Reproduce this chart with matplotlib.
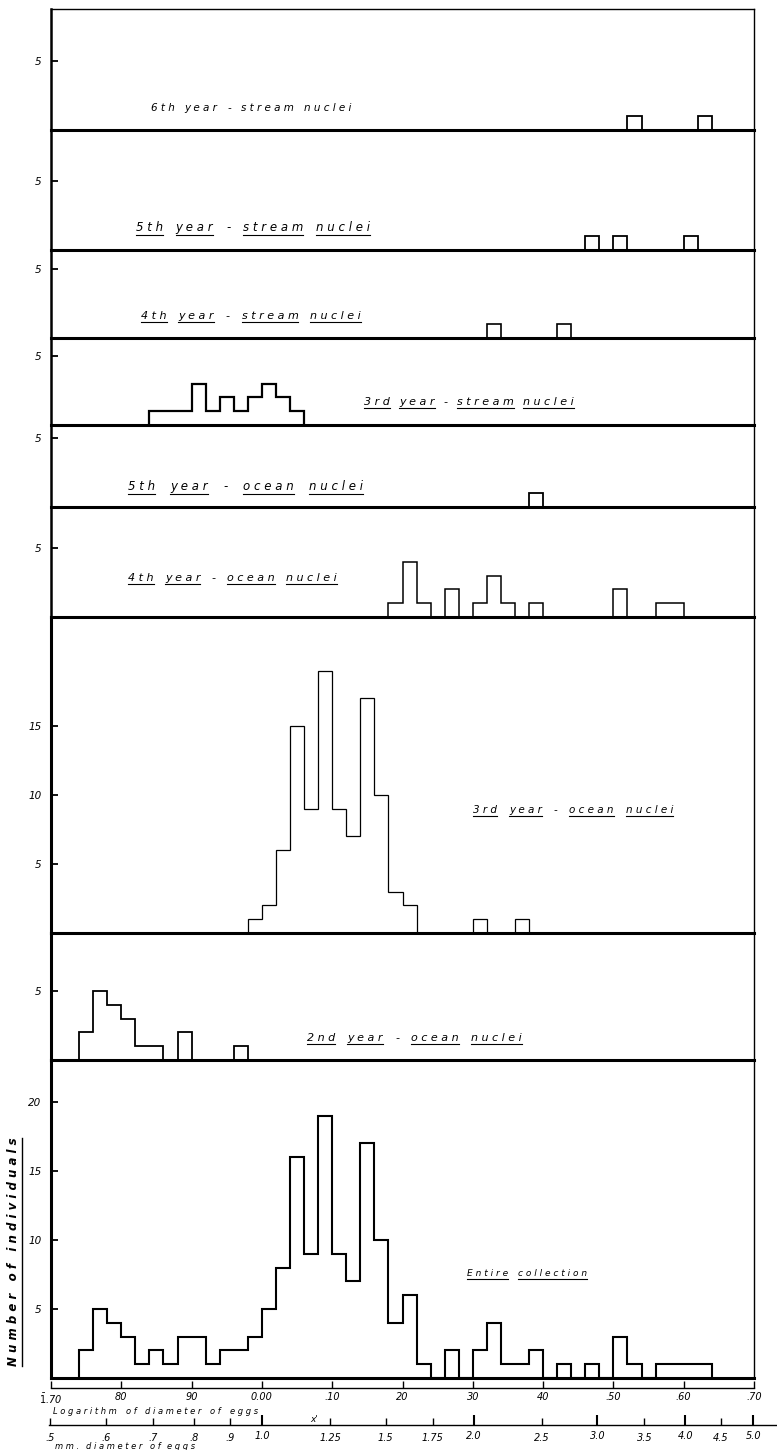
import numpy as np
import matplotlib.pyplot as plt
from matplotlib.lines import Line2D

W, H = 777, 1450

# log10 of egg diameter, classes 0.02 wide
bin_width = 0.02

# number of individuals per class, each group from its first class edge
stream6_start = 0.52
stream6 = [1, 0, 0, 0, 0, 1]
stream5_start = 0.46
stream5 = [1, 0, 1, 0, 0, 0, 0, 1]
stream4_start = 0.32
stream4 = [1, 0, 0, 0, 0, 1]
stream3_start = -0.16
stream3 = [1, 1, 1, 3, 1, 2, 1, 2, 3, 2, 1]
ocean5_start = 0.38
ocean5 = [1]
ocean4_start = 0.18
ocean4 = [1, 4, 1, 0, 2, 0, 1, 3, 1, 0, 1, 0, 0, 0, 0, 0, 2, 0, 0, 1, 1]
ocean3_start = -0.02
ocean3 = [1, 2, 6, 15, 9, 19, 9, 7, 17, 10, 3, 2, 0, 0, 0, 0, 1, 0, 0, 1]
ocean2_start = -0.26
ocean2 = [2, 5, 4, 3, 1, 1, 0, 2, 0, 0, 0, 1]
entire_start = -0.26
entire = [2, 5, 4, 3, 1, 2, 1, 3, 3, 1, 2, 2, 3, 5, 8, 16, 9, 19, 9, 7,
          17, 10, 4, 6, 1, 0, 2, 0, 2, 4, 1, 1, 2, 0, 1, 0, 1, 0, 3, 1,
          0, 1, 1, 1, 1]

titles = [['6th', 'year', '-', 'stream', 'nuclei'],
          ['5th', 'year', '-', 'stream', 'nuclei'],
          ['4th', 'year', '-', 'stream', 'nuclei'],
          ['3rd', 'year', '-', 'stream', 'nuclei'],
          ['5th', 'year', '-', 'ocean', 'nuclei'],
          ['4th', 'year', '-', 'ocean', 'nuclei'],
          ['3rd', 'year', '-', 'ocean', 'nuclei'],
          ['2nd', 'year', '-', 'ocean', 'nuclei'],
          ['Entire', 'collection']]

log_ticks = [-0.3, -0.2, -0.1, 0.0, 0.1, 0.2, 0.3, 0.4, 0.5, 0.6, 0.7]
log_labels = [r'$\bar{1}$.70', '80', '90', '0.00', '.10', '20', '30', '40',
              '.50', '.60', '.70']
mm_major = [1.0, 2.0, 3.0, 4.0, 5.0]
mm_major_labels = ['1.0', '2.0', '3.0', '4.0', '5.0']
mm_minor = [0.5, 0.6, 0.7, 0.8, 0.9, 1.25, 1.5, 1.75, 2.5, 3.5, 4.5]
mm_minor_labels = ['.5', '.6', '.7', '.8', '.9', '1.25', '1.5', '1.75',
                   '2.5', '3.5', '4.5']

groups = [(stream6_start, stream6), (stream5_start, stream5),
          (stream4_start, stream4), (stream3_start, stream3),
          (ocean5_start, ocean5), (ocean4_start, ocean4),
          (ocean3_start, ocean3), (ocean2_start, ocean2),
          (entire_start, entire)]

# layout (pixels of the reference)
tops = [9, 130, 250, 338, 425, 507, 617, 933, 1060]
bottoms = [130, 250, 338, 425, 507, 617, 933, 1060, 1378]
px_unit = 13.8
yticks = [[5]] * 6 + [[5, 10, 15], [5], [5, 10, 15, 20]]
hist_lw = [1.3, 1.3, 1.2, 1.6, 1.3, 1.1, 0.9, 1.3, 1.5]
# x, baseline y, right end x, font size, underlined
title_pos = [(151, 111, 351, 7.5, False), (136, 231, 370, 8.5, True),
             (141, 319, 361, 8, True), (364, 405, 574, 8, True),
             (128, 490, 363, 8.5, True), (128, 581, 337, 8, True),
             (473, 813, 673, 7.5, True), (307, 1041, 522, 8, True),
             (467, 1276, 587, 6.5, True)]
x_left, x_right = 51, 754


def fig_box(left, top, right, bottom):
    return [left / W, 1 - bottom / H, (right - left) / W, (bottom - top) / H]


fig = plt.figure(figsize=(W / 100, H / 100), dpi=100)

for i in range(9):
    ax = fig.add_axes(fig_box(x_left, tops[i], x_right, bottoms[i]))
    start, counts = groups[i]
    edges = start + bin_width * np.arange(len(counts) + 1)
    ax.stairs(counts, edges, baseline=0, color='black', lw=hist_lw[i])
    ax.set_xlim(-0.30, 0.70)
    ax.set_ylim(0, (bottoms[i] - tops[i]) / px_unit)
    ax.set_xticks([])
    ax.set_yticks(yticks[i])
    ax.tick_params(axis='y', direction='in', length=5, width=1.3, pad=7,
                   labelsize=7.5)
    for lab in ax.get_yticklabels():
        lab.set_fontstyle('italic')
    ax.spines['bottom'].set_linewidth(2.2)
    ax.spines['left'].set_linewidth(1.8 if i < 6 else 2.2)
    ax.spines['right'].set_linewidth(1.0)
    if i == 0:
        ax.spines['top'].set_linewidth(1.0)
    else:
        ax.spines['top'].set_visible(False)
    ax.patch.set_visible(False)

# logarithm scale
ax_log = fig.add_axes(fig_box(x_left, 1380, x_right, 1388))
ax_log.set_xlim(-0.30, 0.70)
ax_log.set_ylim(0, 1)
ax_log.set_yticks([])
ax_log.set_xticks(log_ticks, log_labels)
ax_log.tick_params(axis='x', direction='in', length=5, width=1, pad=3,
                   labelsize=7)
for lab in ax_log.get_xticklabels():
    lab.set_fontstyle('italic')
for s in ['top', 'left', 'right']:
    ax_log.spines[s].set_visible(False)
ax_log.spines['bottom'].set_linewidth(1.0)
ax_log.patch.set_visible(False)

# mm scale
ax_mm = fig.add_axes(fig_box(49, 1417, 777, 1425))
ax_mm.set_xscale('log')
ax_mm.set_xlim(10 ** (-0.30 - 2 / 703), 10 ** (-0.30 + 726 / 703))
ax_mm.set_ylim(0, 1)
ax_mm.set_yticks([])
ax_mm.set_xticks(mm_major, mm_major_labels)
ax_mm.set_xticks(mm_minor, mm_minor_labels, minor=True)
ax_mm.tick_params(axis='x', which='major', direction='in', length=7,
                  width=1.5, pad=4, labelsize=7)
ax_mm.tick_params(axis='x', which='minor', direction='in', length=5,
                  width=1, pad=6, labelsize=7)
for lab in ax_mm.get_xticklabels(which='both'):
    lab.set_fontstyle('italic')
for s in ['top', 'left', 'right']:
    ax_mm.spines[s].set_visible(False)
ax_mm.spines['bottom'].set_linewidth(1.0)
ax_mm.patch.set_visible(False)

fig.canvas.draw()
renderer = fig.canvas.get_renderer()


def spaced(word):
    return ' '.join(word)


def write_words(x, y, words, underline, size=7.5, gap=9, x_end=None):
    texts = [fig.text(x / W, 1 - y / H, spaced(w), fontsize=size,
                      style='italic', va='baseline') for w in words]
    widths = [t.get_window_extent(renderer).width for t in texts]
    if x_end is not None and len(words) > 1:
        gap = max(6, (x_end - x - sum(widths)) / (len(words) - 1))
    for w, t, wd in zip(words, texts, widths):
        t.set_x(x / W)
        if underline and w != '-':
            bb = t.get_window_extent(renderer)
            yy = bb.y0 - 1
            fig.add_artist(Line2D([x / W, (x + wd) / W], [yy / H, yy / H],
                                  lw=0.8, color='black'))
        x = x + wd + gap


for words, (tx, ty, tend, tsize, und) in zip(titles, title_pos):
    write_words(tx, ty, words, und, size=tsize, x_end=tend)

write_words(53, 1414, ['Logarithm', 'of', 'diameter', 'of', 'eggs'], False,
            size=6, x_end=258)
write_words(55, 1449, ['mm.', 'diameter', 'of', 'eggs'], False, size=6, gap=7)
fig.text(310 / W, 1 - 1422 / H, "x'", fontsize=6.5, style='italic',
         va='baseline')

# y label
yl = fig.text(14 / W, 1 - 1252 / H, '   '.join(spaced(w) for w in
              ['Number', 'of', 'individuals']), rotation=90, ha='center',
              va='center', fontsize=8.5, fontweight='bold', style='italic')
bb = yl.get_window_extent(renderer)
fig.add_artist(Line2D([(bb.x1 + 1) / W] * 2, [bb.y0 / H, bb.y1 / H],
                      lw=1.0, color='black'))

fig.savefig('out.png', dpi=100)
